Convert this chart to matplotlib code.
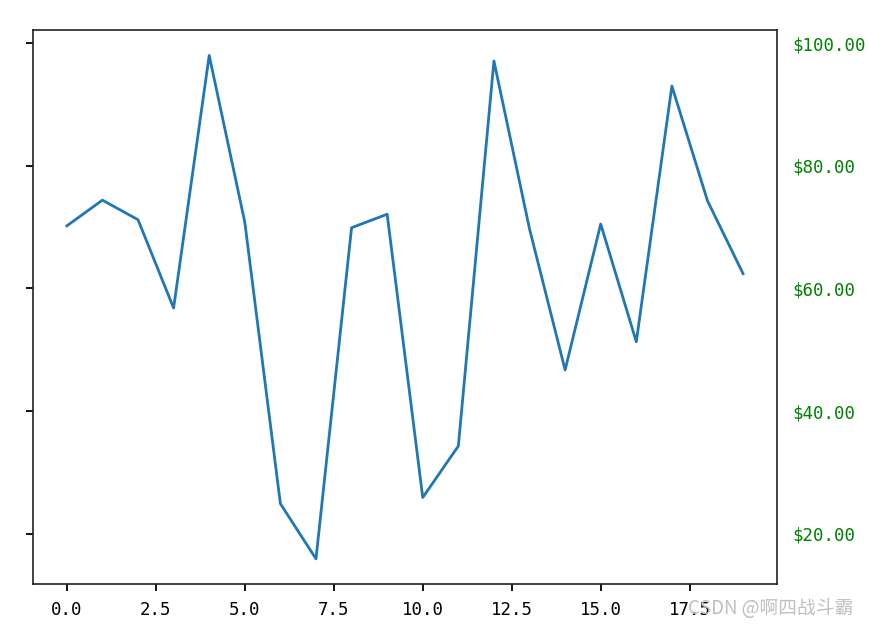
import matplotlib.pyplot as plt
import numpy as np

plt.rcParams['font.family'] = ['DejaVu Sans Mono', 'Noto Sans CJK SC']
plt.rcParams['axes.unicode_minus'] = False

x = np.arange(20)
y = [70.2, 74.4, 71.2, 56.8, 98.0, 70.8, 24.9, 15.9, 69.9, 72.1,
     25.9, 34.3, 97.1, 69.7, 46.7, 70.5, 51.3, 93.0, 74.3, 62.4]

fig = plt.figure(figsize=(8.69, 6.3), dpi=100)
ax = fig.add_axes([0.038, 0.073, 0.856, 0.879])
ax.plot(x, y, color='#1f77b4', linewidth=2.0)

for s in ax.spines.values():
    s.set_linewidth(1.2)
    s.set_color('#222222')

ax.yaxis.set_major_formatter('${x:1.2f}')
ax.yaxis.set_tick_params(which='major', labelcolor='green',
                         labelleft=False, labelright=True, labelsize=12.5,
                         width=1.3, length=5, pad=6)
ax.xaxis.set_tick_params(labelsize=12.5, width=1.3, length=5, pad=7)

fig.text(0.982, 0.018, 'CSDN @啊四战斗霸', ha='right', va='bottom',
         fontsize=13.5, color='#c0c0c0',
         family=['Noto Sans CJK SC', 'DejaVu Sans'])

fig.savefig('out.png')
